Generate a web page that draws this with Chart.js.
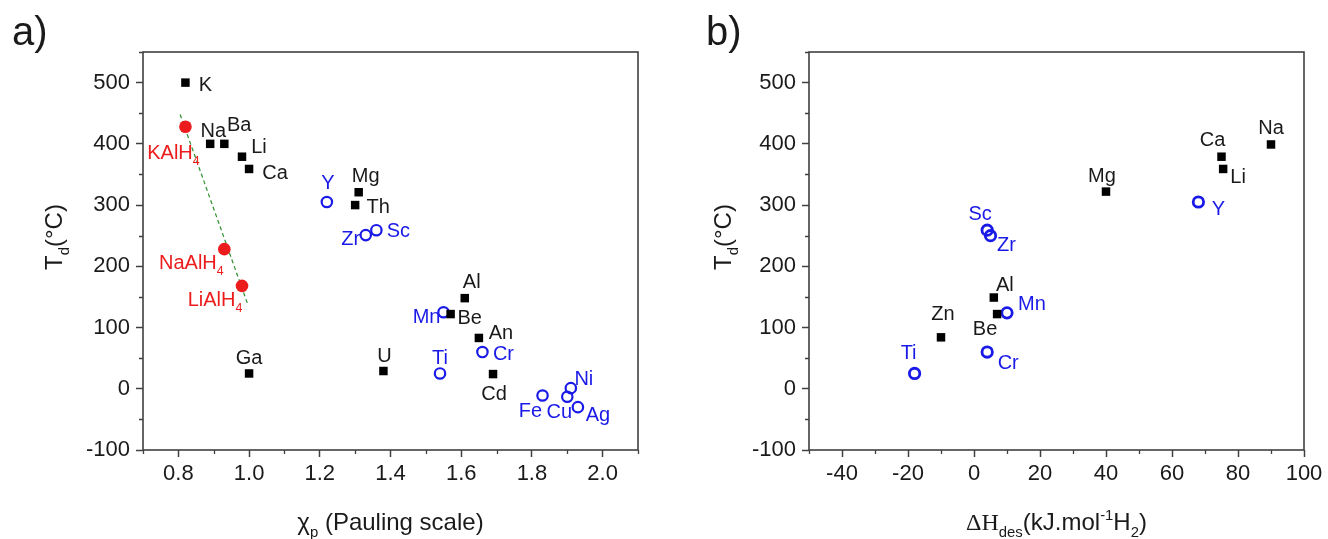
<!DOCTYPE html>
<html>
<head>
<meta charset="utf-8">
<title>Td vs electronegativity and desorption enthalpy</title>
<script src="https://cdn.jsdelivr.net/npm/chart.js@4.4.1/dist/chart.umd.min.js"></script>
<style>
  html, body { margin: 0; padding: 0; background: #fff; }
  #wrap { display: flex; width: 1328px; height: 539px; }
  canvas { display: block; }
</style>
</head>
<body>
<div id="wrap">
  <canvas id="chart-a" width="664" height="539"></canvas>
  <canvas id="chart-b" width="664" height="539"></canvas>
</div>
<script>
// ---- panel a) : decomposition temperature vs Pauling electronegativity ----
const aSquareNames = ['K', 'Ba', 'Na', 'Li', 'Ca', 'Mg', 'Th', 'Ga', 'U', 'Al', 'Be', 'An', 'Cd'];
const aSquareX = [0.82, 0.89, 0.93, 0.98, 1.00, 1.31, 1.30, 1.00, 1.38, 1.61, 1.57, 1.65, 1.69];
const aSquareT = [500, 400, 400, 379, 359, 321, 300, 25, 29, 148, 122, 83, 24];

const aCircleNames = ['Y', 'Zr', 'Sc', 'Ti', 'Mn', 'Cr', 'Fe', 'Ni', 'Cu', 'Ag'];
const aCircleX = [1.22, 1.33, 1.36, 1.54, 1.55, 1.66, 1.83, 1.91, 1.90, 1.93];
const aCircleT = [305, 251, 259, 25, 125, 60, -11, 1, -13, -30];

const aAlanateNames = ['KAlH4', 'NaAlH4', 'LiAlH4'];
const aAlanateX = [0.82, 0.93, 0.98];
const aAlanateT = [428, 228, 168];

const aTrendX = [0.805, 0.995];
const aTrendT = [448, 140];

const aXTicks = [0.8, 1.0, 1.2, 1.4, 1.6, 1.8, 2.0];
const aXMinor = [0.7, 0.9, 1.1, 1.3, 1.5, 1.7, 1.9, 2.1];

// ---- panel b) : decomposition temperature vs desorption enthalpy ----
const bSquareNames = ['Zn', 'Al', 'Be', 'Mg', 'Ca', 'Li', 'Na'];
const bSquareH = [-10, 6, 7, 40, 75, 75.5, 90];
const bSquareT = [84, 149, 122, 322, 379, 359, 399];

const bCircleNames = ['Ti', 'Sc', 'Zr', 'Mn', 'Cr', 'Y'];
const bCircleH = [-18, 4, 5, 10, 4, 68];
const bCircleT = [25, 259, 250, 124, 60, 305];

const bXTicks = [-40, -20, 0, 20, 40, 60, 80, 100];
const bXMinor = [-50, -30, -10, 10, 30, 50, 70, 90];

const tdTicks = [-100, 0, 100, 200, 300, 400, 500];
const tdMinor = [-50, 50, 150, 250, 350, 450, 550];

// label placement relative to each point, in px (style, not data)
const aSquareOffsets = [[20, 1], [29, -20], [-11, -14], [17, -11], [26, 3], [7, -17], [23, 1],
  [0, -17], [1, -16], [7, -17], [19, 3], [22, -6], [1, 19]];
const aCircleOffsets = [[1, -20], [-15, 3], [22, 0], [0, -17], [-17, 4], [21, 1], [-12, 14],
  [13, -10], [-8, 14], [20, 7]];
const aAlanateOffsets = [[-12, 25], [-33, 13], [-27, 13]];
const bSquareOffsets = [[2, -24], [11, -14], [-12, 14], [-4, -17], [-9, -18], [15, 7], [0, -18]];
const bCircleOffsets = [[-6, -22], [-7, -17], [16, 8], [25, -10], [21, 10], [20, 6]];

const SANS = '"Liberation Sans", Arial, Helvetica, sans-serif';
const SERIF = '"Liberation Serif", "Times New Roman", serif';
const AXIS = '#404040';
const TEXT = '#1a1a1a';
const BLUE = '#1a1ae8';
const RED = '#ec1c1c';
const GREEN = '#2f8f2f';

// draws a run of [text, kind] pieces centred on (cx, cy); kind: sub, sup or serif
function drawRich(ctx, parts, cx, cy, size, color, rotated) {
  ctx.save();
  ctx.translate(cx, cy);
  if (rotated) ctx.rotate(-Math.PI / 2);
  ctx.fillStyle = color;
  ctx.textAlign = 'left';
  ctx.textBaseline = 'alphabetic';
  const runs = parts.map(([text, kind = '']) => {
    const px = (kind === 'sub' || kind === 'sup') ? size * 0.62 : size;
    const font = px + 'px ' + (kind === 'serif' ? SERIF : SANS);
    ctx.font = font;
    return { text, kind, font, w: ctx.measureText(text).width };
  });
  let x = -runs.reduce((s, r) => s + r.w, 0) / 2;
  const base = size * 0.358;
  runs.forEach(r => {
    ctx.font = r.font;
    const dy = r.kind === 'sub' ? size * 0.3 : r.kind === 'sup' ? -size * 0.42 : 0;
    ctx.fillText(r.text, x, base + dy);
    x += r.w;
  });
  ctx.restore();
}

// digits in a formula become subscripts: LiAlH4 -> LiAlH + 4
function formulaParts(name) {
  return name.split(/(\d+)/).filter(Boolean).map(s => /^\d+$/.test(s) ? [s, 'sub'] : [s]);
}

const pointLabels = {
  id: 'pointLabels',
  afterDatasetsDraw(chart) {
    const ctx = chart.ctx;
    chart.data.datasets.forEach((ds, i) => {
      if (!ds.names) return;
      chart.getDatasetMeta(i).data.forEach((pt, j) => {
        const [dx, dy] = ds.nameOffsets[j];
        drawRich(ctx, formulaParts(ds.names[j]), pt.x + dx, pt.y + dy, 20, ds.nameColor);
      });
    });
  }
};

function makeDecor(cfg) {
  return {
    id: 'decor',
    afterDraw(chart) {
      const { ctx, chartArea: a } = chart;
      const x = chart.scales.x, y = chart.scales.y;
      ctx.save();
      ctx.strokeStyle = AXIS;
      ctx.lineWidth = 1.6;
      ctx.strokeRect(a.left, a.top, a.right - a.left, a.bottom - a.top);
      ctx.lineWidth = 1.3;
      ctx.beginPath();
      cfg.xMinor.forEach(v => {
        const px = Math.round(x.getPixelForValue(v)) + 0.5;
        ctx.moveTo(px, a.bottom);
        ctx.lineTo(px, a.bottom + 4);
      });
      cfg.yMinor.forEach(v => {
        const py = Math.round(y.getPixelForValue(v)) + 0.5;
        ctx.moveTo(a.left, py);
        ctx.lineTo(a.left - 4, py);
      });
      ctx.stroke();
      ctx.restore();

      drawRich(ctx, cfg.xTitle, (a.left + a.right) / 2, 521, 24, TEXT, false);
      drawRich(ctx, cfg.yTitle, cfg.yTitleX, 237, 24, TEXT, true);

      ctx.save();
      ctx.fillStyle = TEXT;
      ctx.font = '40px ' + SANS;
      ctx.textBaseline = 'alphabetic';
      ctx.fillText(cfg.panel, cfg.panelX, 45);
      ctx.restore();
    }
  };
}

function points(xs, ys) {
  return xs.map((x, i) => ({ x, y: ys[i] }));
}

function squares(xs, ys, names, offsets) {
  return {
    data: points(xs, ys), pointStyle: 'rect', pointRadius: 6, pointBorderWidth: 0,
    pointBackgroundColor: '#000', pointBorderColor: '#000',
    names, nameOffsets: offsets, nameColor: TEXT
  };
}

function rings(xs, ys, names, offsets, width) {
  return {
    data: points(xs, ys), pointStyle: 'circle', pointRadius: 5.2, pointBorderWidth: width,
    pointBackgroundColor: 'rgba(0,0,0,0)', pointBorderColor: BLUE,
    names, nameOffsets: offsets, nameColor: BLUE
  };
}

function scales(xMin, xMax, xTicks, xFmt, yWidth) {
  const tickFont = { family: SANS, size: 22 };
  const grid = { drawOnChartArea: false, tickLength: 7, tickColor: AXIS, tickWidth: 1.5 };
  return {
    x: {
      type: 'linear', min: xMin, max: xMax,
      afterBuildTicks: s => { s.ticks = xTicks.map(value => ({ value })); },
      afterFit: s => { s.height = 89; },
      ticks: { font: tickFont, color: TEXT, padding: 4, autoSkip: false, maxRotation: 0, callback: xFmt },
      grid, border: { display: false }
    },
    y: {
      type: 'linear', min: -100, max: 550,
      afterBuildTicks: s => { s.ticks = tdTicks.map(value => ({ value })); },
      afterFit: s => { s.width = yWidth; },
      ticks: { font: tickFont, color: TEXT, padding: 6, autoSkip: false, callback: v => String(v) },
      grid, border: { display: false }
    }
  };
}

function baseOptions(padRight, sc) {
  return {
    responsive: false,
    animation: false,
    events: [],
    layout: { autoPadding: false, padding: { top: 52, right: padRight, left: 0, bottom: 0 } },
    plugins: { legend: { display: false }, tooltip: { enabled: false } },
    scales: sc
  };
}

new Chart(document.getElementById('chart-a'), {
  type: 'scatter',
  data: {
    datasets: [
      squares(aSquareX, aSquareT, aSquareNames, aSquareOffsets),
      rings(aCircleX, aCircleT, aCircleNames, aCircleOffsets, 2.2),
      {
        data: points(aAlanateX, aAlanateT), pointStyle: 'circle', pointRadius: 6.3, pointBorderWidth: 0,
        pointBackgroundColor: RED, pointBorderColor: RED,
        names: aAlanateNames, nameOffsets: aAlanateOffsets, nameColor: RED
      },
      {
        data: points(aTrendX, aTrendT), showLine: true, borderColor: GREEN, borderWidth: 1.2,
        borderDash: [4, 3], pointRadius: 0
      }
    ]
  },
  options: baseOptions(26, scales(0.7, 2.1, aXTicks, v => v.toFixed(1), 143)),
  plugins: [pointLabels, makeDecor({
    xMinor: aXMinor, yMinor: tdMinor,
    xTitle: [['χ'], ['p', 'sub'], [' (Pauling scale)']],
    yTitle: [['T'], ['d', 'sub'], ['(°C)']],
    yTitleX: 53.5, panel: 'a)', panelX: 12
  })]
});

new Chart(document.getElementById('chart-b'), {
  type: 'scatter',
  data: {
    datasets: [
      squares(bSquareH, bSquareT, bSquareNames, bSquareOffsets),
      rings(bCircleH, bCircleT, bCircleNames, bCircleOffsets, 2.8)
    ]
  },
  options: baseOptions(24, scales(-50, 100, bXTicks, v => String(v), 145)),
  plugins: [pointLabels, makeDecor({
    xMinor: bXMinor, yMinor: tdMinor,
    xTitle: [['Δ', 'serif'], ['H', 'serif'], ['des', 'sub'], ['(kJ.mol'], ['-1', 'sup'], ['H'], ['2', 'sub'], [')']],
    yTitle: [['T'], ['d', 'sub'], ['(°C)']],
    yTitleX: 58.5, panel: 'b)', panelX: 42
  })]
});
</script>
</body>
</html>
